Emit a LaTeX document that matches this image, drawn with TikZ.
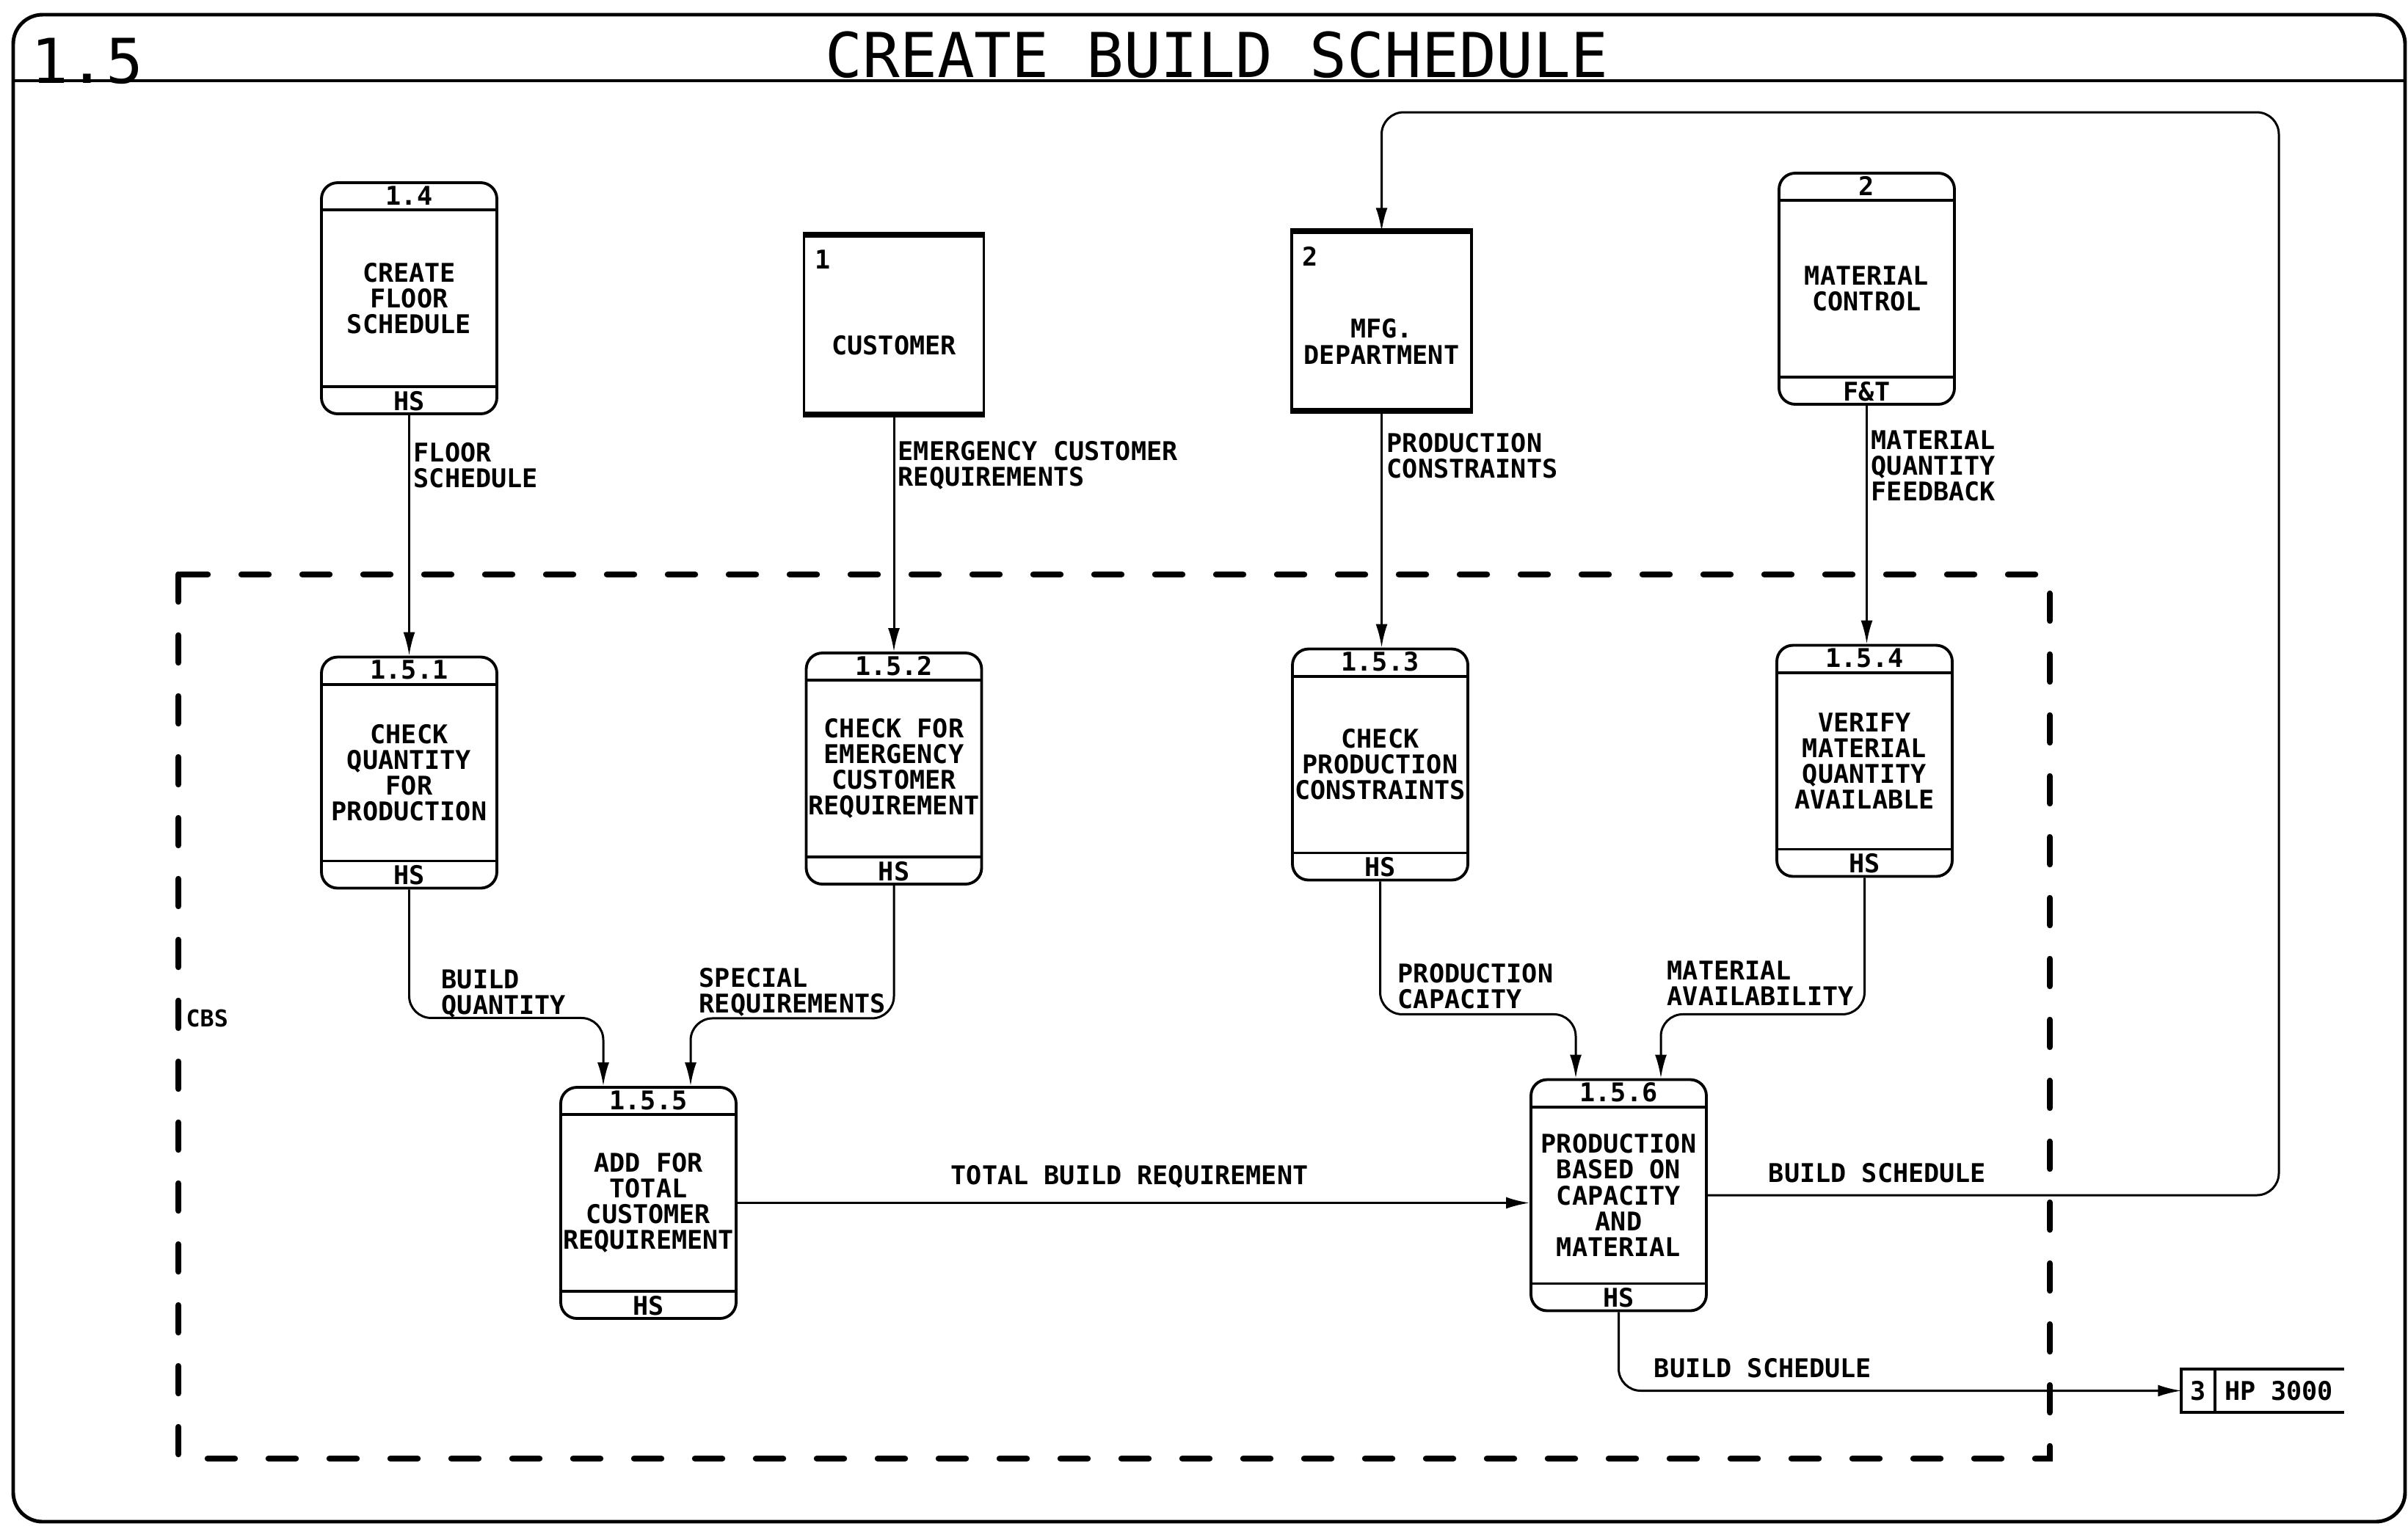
\documentclass[tikz,border=0pt]{standalone}
\usepackage{fontspec}
\setmainfont{DejaVu Sans Mono}
\usetikzlibrary{arrows.meta,calc,positioning}
\tikzset{>={Latex[length=3.2mm,width=1.6mm]},
  every node/.style={font=\bfseries\fontsize{10}{10}\selectfont},
  frame/.style={draw,line width=1.4pt,rounded corners=4mm},
  proc/.style={draw,line width=1.1pt,rounded corners=2.2mm,minimum width=2.39cm,
    minimum height=3.15cm,align=center,inner sep=0pt},
  entity/.style={draw,line width=1pt,minimum width=2.45cm,minimum height=2.41cm,inner sep=0pt},
  flow/.style={->,line width=.85pt,rounded corners=3mm},
  flowlabel/.style={align=left,inner sep=0pt,anchor=west},
  boundary/.style={line width=2.4pt,dash pattern=on 3.7mm off 4.6mm,line cap=round}}
\begin{document}
\begin{tikzpicture}
\useasboundingbox (0,0) rectangle (32.81,-20.83);
% sheet frame and title
\draw[frame] (0.18,-0.2) rectangle (32.77,-20.74);
\draw[line width=1.4pt] (0.18,-1.1)--(32.77,-1.1);
\node[anchor=west,inner sep=0pt,font=\fontsize{24}{24}\selectfont] (sheet) at (0.42,-0.83) {1.5};
\node[font=\fontsize{24}{24}\selectfont] (title) at (16.58,-0.75) {CREATE BUILD SCHEDULE};
% context boundary
\draw[boundary] (2.43,-7.83) rectangle (27.93,-19.88);
\node[anchor=west,inner sep=0pt,font=\bfseries\fontsize{9}{9}\selectfont] (cbs) at (2.53,-13.88) {CBS};
% processes
\foreach \nm/\x/\y/\num/\txt/\who in {p14/5.575/-4.065/1.4/{CREATE\\FLOOR\\SCHEDULE}/HS,
  matctl/25.435/-3.935/2/{MATERIAL\\CONTROL}/{F\&T},
  p151/5.575/-10.53/1.5.1/{CHECK\\QUANTITY\\FOR\\PRODUCTION}/HS,
  p152/12.18/-10.475/1.5.2/{CHECK FOR\\EMERGENCY\\CUSTOMER\\REQUIREMENT}/HS,
  p153/18.805/-10.42/1.5.3/{CHECK\\PRODUCTION\\CONSTRAINTS}/HS,
  p154/25.405/-10.37/1.5.4/{VERIFY\\MATERIAL\\QUANTITY\\AVAILABLE}/HS,
  p155/8.835/-16.395/1.5.5/{ADD FOR\\TOTAL\\CUSTOMER\\REQUIREMENT}/HS,
  p156/22.055/-16.29/1.5.6/{PRODUCTION\\BASED ON\\CAPACITY\\AND\\MATERIAL}/HS}{
  \node[proc] (\nm) at (\x,\y) {\txt};
  \draw[line width=1.1pt] ([yshift=-3.9mm]\nm.north west)--([yshift=-3.9mm]\nm.north east)
    ([yshift=3.9mm]\nm.south west)--([yshift=3.9mm]\nm.south east);
  \node (\nm-id) at ([yshift=-1.95mm]\nm.north) {\num};
  \node (\nm-who) at ([yshift=1.95mm]\nm.south) {\who};}
% external entities
\foreach \nm/\x/\y/\num/\txt in {cust/12.18/-4.425/1/CUSTOMER,mfg/18.825/-4.375/2/{MFG.\\DEPARTMENT}}{
  \node[entity] (\nm) at (\x,\y) {};
  \draw[line width=2.2pt] (\nm.north west)--(\nm.north east) (\nm.south west)--(\nm.south east);
  \node[anchor=north west,inner sep=0pt] (\nm-id) at ([xshift=1.6mm,yshift=-2mm]\nm.north west) {\num};
  \node[align=center,inner sep=0pt] (\nm-txt) at ([yshift=-2.8mm]\nm.center) {\txt};}
% data store
\node[minimum width=2.2cm,minimum height=.57cm,inner sep=0pt] (hp) at (30.83,-18.955) {};
\draw[line width=1.1pt] (hp.north east)--(hp.north west)--(hp.south west)--(hp.south east)
  ([xshift=4.6mm]hp.north west)--([xshift=4.6mm]hp.south west);
\node (hp-id) at ([xshift=2.3mm]hp.west) {3};
\node[anchor=west,inner sep=0pt] (hp-txt) at ([xshift=5.8mm]hp.west) {HP 3000};
% flows
\draw[flow] (p14.south)--(p151.north);
\draw[flow] (cust.south)--(p152.north);
\draw[flow] (mfg.south)--(mfg.south |- p153.north);
\draw[flow] (matctl.south)--(matctl.south |- p154.north);
\node[flowlabel] (lfloor) at (5.63,-6.345) {FLOOR\\SCHEDULE};
\node[flowlabel] (lemerg) at (12.23,-6.345) {EMERGENCY CUSTOMER\\REQUIREMENTS};
\node[flowlabel] (lcons) at (18.89,-6.215) {PRODUCTION\\CONSTRAINTS};
\node[flowlabel] (lfeed) at (25.49,-6.35) {MATERIAL\\QUANTITY\\FEEDBACK};
\draw[flow] (p151.south)--++(0,-1.75) -| ([xshift=-6.15mm]p155.north);
\draw[flow] (p152.south)--++(0,-1.81) -| ([xshift=5.75mm]p155.north);
\draw[flow] (p153.south)--++(0,-1.81) -| ([xshift=-5.85mm]p156.north);
\draw[flow] (p154.south)--++(0,-1.86) -| ([xshift=5.75mm]p156.north);
\node[flowlabel] (lqty) at (6.01,-13.545) {BUILD\\QUANTITY};
\node[flowlabel] (lspec) at (9.52,-13.52) {SPECIAL\\REQUIREMENTS};
\node[flowlabel] (lcap) at (19.04,-13.44) {PRODUCTION\\CAPACITY};
\node[flowlabel] (lavail) at (22.71,-13.405) {MATERIAL\\AVAILABILITY};
\draw[flow] (p155.east)--node[above=.7mm,pos=.495] (ltotal) {TOTAL BUILD REQUIREMENT} (p155.east -| p156.west);
\coordinate (loopcorner) at (31.05,-1.53);
\draw[flow] (p156.east) -| (loopcorner) -| (mfg.north);
\node[above=.5mm] (lsched) at (25.58,-16.29) {BUILD SCHEDULE};
\draw[flow] (p156.south) |- (hp.west);
\node[above=.5mm] (lstore) at (24.02,-18.955) {BUILD SCHEDULE};
\end{tikzpicture}
\end{document}
